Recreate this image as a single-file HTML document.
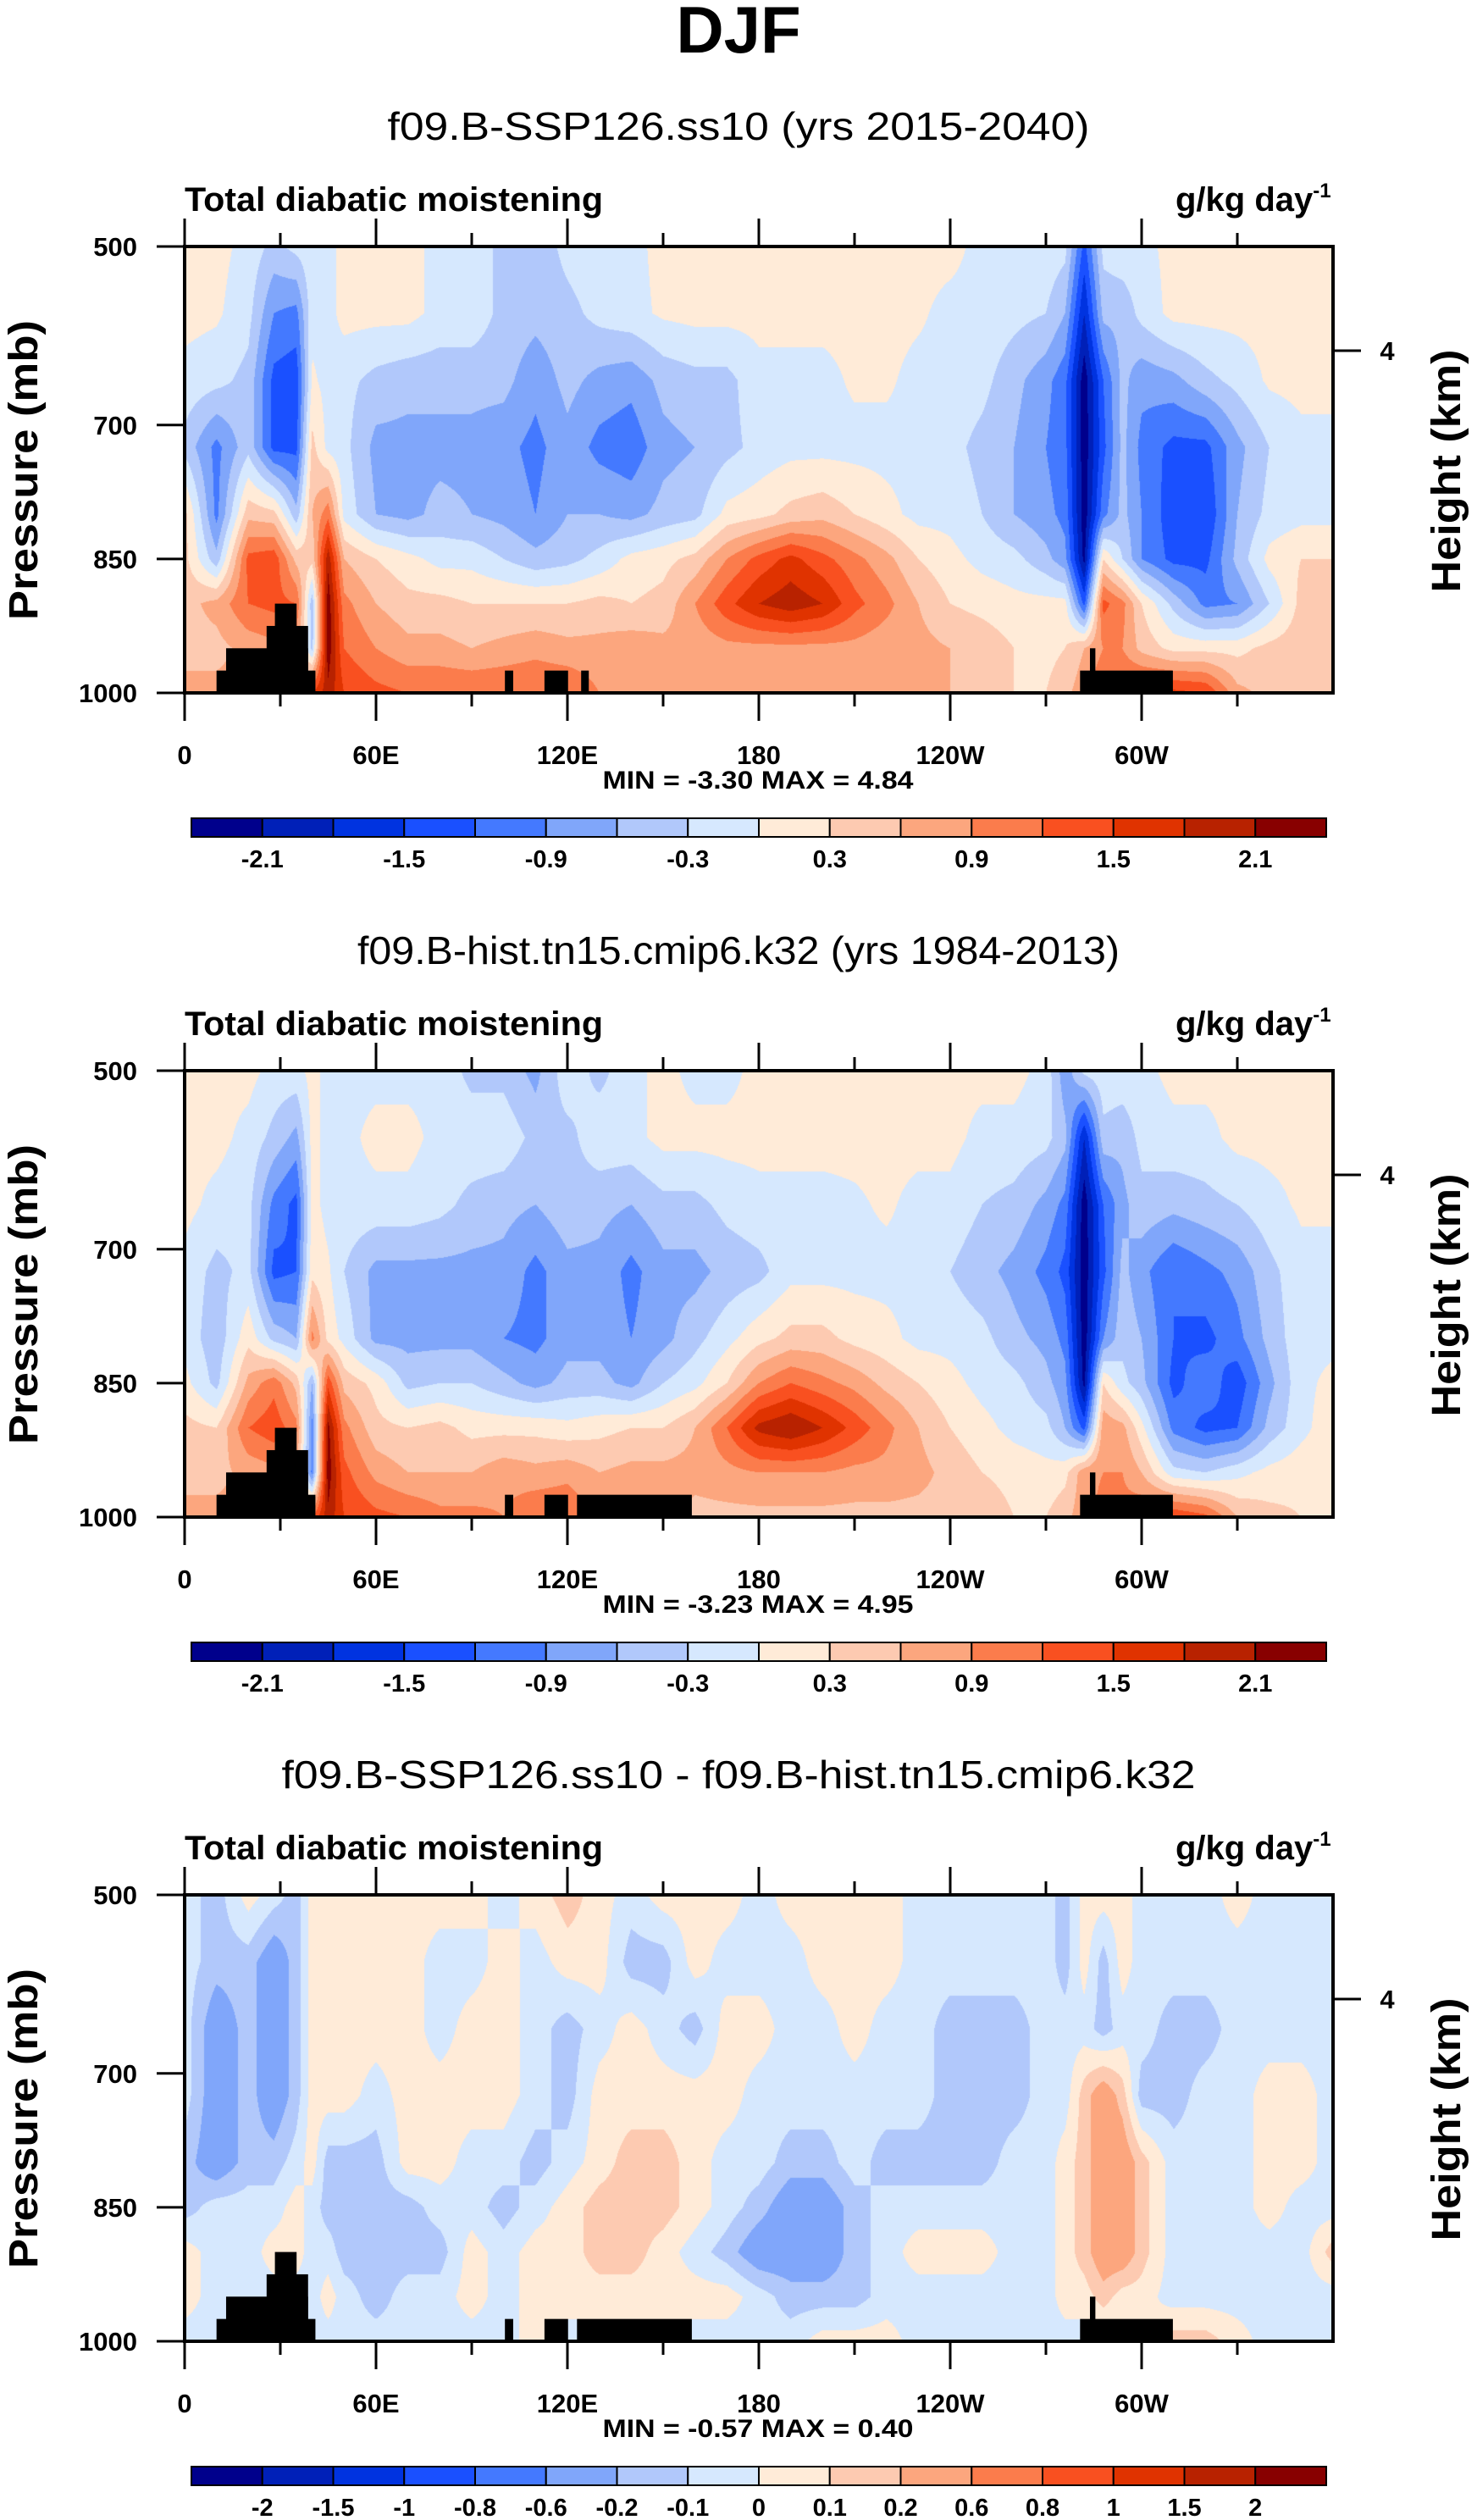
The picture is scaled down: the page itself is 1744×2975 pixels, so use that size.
<!DOCTYPE html>
<html><head><meta charset="utf-8"><title>DJF Total diabatic moistening</title>
<style>
html,body{margin:0;padding:0;background:#fff;}
#wrap{position:relative;width:1744px;height:2975px;overflow:hidden;background:#fff;}
canvas{position:absolute;left:218px;}
svg{position:absolute;left:0;top:0;}
text{font-family:"Liberation Sans",Arial,sans-serif;fill:#000;}
</style></head>
<body>
<div id="wrap">
<canvas id="c0" width="1356" height="527" style="top:291px"></canvas>
<canvas id="c1" width="1356" height="527" style="top:1264px"></canvas>
<canvas id="c2" width="1356" height="527" style="top:2237px"></canvas>
<svg id="svg" width="1744" height="2975" xmlns="http://www.w3.org/2000/svg">
<text x="872" y="62" font-size="78" font-weight="bold" text-anchor="middle">DJF</text>
</svg>
</div>
<script>
// ---- data ----
const lons = [0,10,20,28,35,40,45,50,60,70,80,90,100,110,120,130,140,150,160,170,180,190,200,210,220,230,240,250,260,270,276,282,288,294,300,310,320,330,340,350,360];
const levels = [500,575,650,725,800,850,900,950,1000];
const boundsAbs = [-2.1,-1.8,-1.5,-1.2,-0.9,-0.6,-0.3,0,0.3,0.6,0.9,1.2,1.5,1.8,2.1];
const boundsDiff = [-2,-1.5,-1,-0.8,-0.6,-0.2,-0.1,0,0.1,0.2,0.6,0.8,1,1.5,2];
const labelsAbs = ["-2.1","-1.5","-0.9","-0.3","0.3","0.9","1.5","2.1"];
const labelsDiff = ["-2","-1.5","-1","-0.8","-0.6","-0.2","-0.1","0","0.1","0.2","0.6","0.8","1","1.5","2"];
const palette = ['#00008c','#0020b8','#0033e0','#1a50ff','#4479ff','#80a6fa','#b1c8fb','#d6e8fe','#ffebd8','#fdcab1','#fca67e','#fb7c4c','#f95020','#e03300','#b82200','#880000'];
const lonTicks = [0,60,120,180,240,300];
const lonTickLabels = ["0","60E","120E","180","120W","60W"];
const pTicks = [500,700,850,1000];

const fieldSsp = [
[0.1,0.1,-0.1,-0.4,-0.2,-0.1,-0.1,0.1,0.1,0.1,-0.1,-0.1,-0.4,-0.5,-0.2,-0.1,-0.1,0.1,0.1,0.1,0.1,0.1,0.1,0.1,0.1,0.1,0.1,-0.1,-0.1,-0.1,-0.2,-1.3,-0.2,-0.1,-0.1,0.1,0.1,0.1,0.1,0.1,0.1],
[0.1,0.05,-0.2,-0.9,-1.0,-0.1,-0.1,0.1,0.1,0.1,-0.1,-0.1,-0.4,-0.5,-0.4,-0.2,-0.1,0.05,0.1,0.1,0.1,0.1,0.1,0.1,0.1,0.05,-0.1,-0.1,-0.2,-0.3,-0.6,-1.8,-0.5,-0.5,-0.2,0.1,0.1,0.1,0.1,0.1,0.1],
[-0.1,-0.2,-0.4,-1.3,-1.4,0.05,-0.1,-0.2,-0.4,-0.5,-0.5,-0.5,-0.5,-0.8,-0.5,-0.7,-0.8,-0.5,-0.4,-0.4,-0.1,-0.1,-0.1,0.05,0.05,-0.1,-0.1,-0.2,-0.5,-0.8,-1.1,-2.3,-1.2,-0.5,-0.8,-0.7,-0.4,-0.2,0.05,0.1,0.1],
[-0.4,-1.0,-0.4,-1.3,-1.3,0.4,-0.1,-0.2,-0.7,-0.7,-0.7,-0.7,-0.8,-1.0,-0.7,-1.0,-1.1,-0.7,-0.6,-0.4,-0.2,-0.1,-0.1,-0.1,-0.1,-0.1,-0.2,-0.4,-0.6,-0.9,-1.1,-2.3,-1.3,-0.5,-1.0,-1.3,-1.3,-0.7,-0.3,-0.1,-0.1],
[0.4,-1.0,0.5,0.4,-0.5,0.6,1.1,-0.1,-0.6,-0.7,-0.5,-0.6,-0.7,-0.9,-0.6,-0.6,-0.7,-0.5,-0.4,0.1,0.2,0.4,0.5,0.3,0.1,-0.1,-0.1,-0.3,-0.6,-0.8,-1.0,-2.3,-1.0,-0.5,-0.9,-1.4,-1.5,-0.6,-0.2,-0.1,-0.1],
[0.4,-0.5,1.3,1.4,0.5,0.4,2.0,0.6,0.3,0.1,-0.1,-0.1,-0.3,-0.5,-0.4,-0.2,0.1,0.2,0.4,0.9,1.3,1.6,1.3,1.0,0.7,0.3,0.1,-0.1,-0.2,-0.5,-0.8,-2.2,0.3,-0.3,-0.9,-1.3,-1.3,-0.5,0.1,0.3,0.3],
[0.5,0.7,1.2,1.3,1.2,-0.5,2.3,1.0,0.6,0.4,0.4,0.3,0.3,0.3,0.3,0.4,0.3,0.4,0.9,1.4,1.8,2.0,1.8,1.3,1.0,0.6,0.3,0.2,0.1,0.1,0.1,-1.3,1.3,1.0,0.3,-0.4,-1.0,-0.9,-0.3,0.4,0.5],
[0.5,0.5,0.7,0.8,0.7,-0.4,2.3,1.2,0.9,0.7,0.7,0.6,0.7,0.8,0.7,0.7,0.8,0.7,0.7,0.8,0.8,0.8,0.8,0.8,0.7,0.7,0.6,0.5,0.3,0.2,0.3,0.6,0.9,0.9,0.5,0.2,0.2,0.2,0.4,0.5,0.5],
[0.7,0.7,0.7,0.7,0.7,1.5,2.0,1.5,1.3,1.2,1.2,1.2,1.2,1.2,1.2,0.9,0.9,0.9,0.6,0.6,0.6,0.6,0.6,0.6,0.6,0.6,0.6,0.4,0.3,0.3,0.5,0.8,1.2,1.3,1.5,1.6,1.5,0.7,0.5,0.4,0.4]
];
const fieldHist = [
[0.1,0.1,0.1,-0.1,-0.1,0.1,-0.1,-0.1,-0.1,-0.1,-0.1,-0.4,-0.4,-0.7,-0.1,-0.4,-0.1,0.1,-0.1,-0.1,0.1,0.1,0.1,0.1,0.1,0.1,0.1,0.1,0.1,-0.1,-0.8,-0.2,-0.1,-0.1,-0.1,0.1,0.1,0.1,0.1,0.1,0.1],
[0.1,0.1,-0.1,-0.4,-0.7,0.1,-0.1,-0.1,0.1,0.1,-0.1,-0.1,-0.1,-0.4,-0.4,-0.1,-0.1,0.1,0.1,0.1,0.1,0.1,0.1,0.1,0.1,0.1,0.1,-0.1,-0.1,-0.2,-0.5,-1.8,-0.4,-0.5,-0.2,-0.1,-0.1,0.1,0.1,0.1,0.1],
[0.1,-0.1,-0.2,-1.0,-1.3,0.1,-0.1,-0.1,-0.1,-0.1,-0.2,-0.4,-0.5,-0.6,-0.4,-0.5,-0.6,-0.4,-0.4,-0.2,-0.1,-0.1,-0.1,-0.05,0.05,-0.1,-0.1,-0.3,-0.4,-0.7,-1.0,-2.3,-1.2,-0.7,-0.4,-0.5,-0.4,-0.3,-0.1,0.05,0.05],
[-0.1,-0.4,-0.2,-1.3,-1.2,0.2,0.05,-0.3,-0.7,-0.7,-0.7,-0.7,-0.7,-1.0,-0.7,-0.7,-1.0,-0.7,-0.7,-0.5,-0.4,-0.1,-0.1,-0.1,-0.1,-0.1,-0.3,-0.5,-0.7,-1.0,-1.3,-2.3,-1.3,-0.5,-0.8,-1.2,-1.0,-0.8,-0.4,-0.1,-0.1],
[-0.1,-0.5,0.2,-0.4,-0.6,1.0,0.2,-0.1,-0.7,-0.7,-0.7,-0.7,-0.9,-1.0,-0.7,-0.7,-0.9,-0.7,-0.4,-0.1,0.2,0.4,0.4,0.2,0.1,-0.1,-0.1,-0.2,-0.5,-0.7,-1.0,-2.3,-0.9,-0.4,-0.6,-1.2,-1.3,-1.0,-0.5,-0.1,-0.1],
[0.1,-0.4,0.7,1.1,0.5,-0.6,1.4,0.5,0.2,-0.4,-0.3,-0.3,-0.5,-0.7,-0.5,-0.5,-0.7,-0.3,-0.1,0.3,0.9,1.2,1.0,0.8,0.5,0.3,0.1,-0.1,-0.2,-0.5,-0.8,-2.2,0.3,-0.2,-0.5,-1.3,-1.0,-1.4,-0.7,-0.1,0.1],
[0.4,0.3,1.2,1.4,1.0,-1.0,2.2,1.0,0.4,0.3,0.4,0.2,0.2,0.2,0.1,0.2,0.3,0.3,0.6,1.2,1.9,2.1,1.8,1.4,1.0,0.6,0.3,0.1,-0.1,-0.2,-0.6,-1.3,0.8,0.7,0.1,-1.0,-1.3,-1.2,-0.5,-0.1,0.2],
[0.5,0.5,0.7,0.8,0.6,-1.0,2.3,1.3,0.8,0.6,0.6,0.6,0.8,0.7,0.8,0.6,0.7,0.7,0.7,0.8,0.9,0.9,0.9,0.8,0.8,0.7,0.5,0.3,0.2,0.1,0.2,0.8,0.9,0.9,0.6,-0.2,-0.3,-0.1,0.1,0.2,0.2],
[0.7,0.7,0.7,0.7,0.7,1.2,2.0,1.5,1.3,1.2,1.0,1.0,0.9,1.2,1.2,0.8,0.8,0.8,0.5,0.5,0.5,0.5,0.5,0.5,0.5,0.5,0.5,0.5,0.3,0.3,0.5,0.8,1.0,1.0,1.2,1.5,1.3,0.6,0.4,0.3,0.3]
];
const fieldDiff = [
[-0.05,-0.15,0.05,-0.05,-0.15,0.05,0.05,0.05,0.05,0.05,0.05,0.05,-0.05,0.05,0.15,0.05,-0.05,0.05,0.05,0.05,-0.05,0.05,0.05,0.05,0.05,-0.05,-0.05,-0.05,-0.05,-0.05,-0.15,0.05,0.05,0.05,-0.05,-0.05,-0.05,0.05,-0.05,-0.05,-0.05],
[-0.05,-0.15,-0.15,-0.3,-0.15,0.05,0.05,0.05,0.05,0.05,-0.05,-0.05,0.05,-0.05,0.05,0.05,-0.15,-0.15,0.05,-0.05,-0.05,-0.05,0.05,0.05,0.05,-0.05,-0.05,-0.05,-0.05,-0.05,-0.15,0.05,-0.15,0.05,-0.05,-0.05,-0.05,-0.05,-0.05,-0.05,-0.05],
[-0.05,-0.3,-0.15,-0.3,-0.15,0.05,0.05,0.05,0.05,0.05,-0.05,0.05,0.05,-0.05,-0.15,-0.05,0.05,-0.05,-0.15,0.05,0.05,-0.05,-0.05,0.05,-0.05,-0.05,-0.15,-0.15,-0.15,-0.05,-0.05,-0.05,-0.15,-0.05,-0.05,-0.15,-0.15,-0.05,-0.05,-0.05,-0.05],
[-0.05,-0.3,-0.15,-0.3,-0.15,0.05,0.05,0.05,-0.05,0.05,0.05,0.05,0.05,-0.05,-0.15,0.05,0.05,0.05,0.05,0.05,-0.05,-0.05,-0.05,-0.05,-0.05,-0.05,-0.15,-0.15,-0.15,-0.05,-0.05,0.15,0.3,0.15,-0.15,-0.15,-0.05,-0.05,0.05,0.05,-0.05],
[-0.15,-0.3,-0.15,-0.15,-0.05,0.05,-0.15,-0.15,-0.15,0.05,0.05,-0.05,-0.05,-0.15,-0.05,0.05,0.15,0.15,0.05,-0.05,-0.05,-0.15,-0.15,-0.05,-0.15,-0.15,-0.15,-0.15,-0.05,-0.05,0.05,0.15,0.3,0.3,0.15,-0.05,-0.05,-0.05,0.05,0.05,-0.05],
[-0.15,-0.05,-0.05,-0.05,0.05,-0.05,-0.15,-0.15,-0.15,-0.15,-0.05,-0.05,-0.15,-0.05,0.05,0.15,0.15,0.15,0.05,-0.05,-0.15,-0.3,-0.3,-0.15,-0.05,-0.05,-0.05,-0.05,-0.05,-0.05,0.05,0.15,0.3,0.3,0.15,-0.05,-0.05,-0.05,0.05,-0.05,-0.05],
[0.05,-0.05,-0.05,0.05,0.05,-0.05,-0.05,-0.15,-0.15,-0.15,-0.15,0.05,-0.05,0.05,0.05,0.15,0.15,0.05,-0.05,-0.15,-0.3,-0.3,-0.3,-0.15,-0.05,0.05,0.05,0.05,-0.05,-0.05,0.05,0.15,0.3,0.3,0.15,-0.05,-0.05,-0.05,-0.05,-0.05,0.15],
[0.05,-0.05,-0.05,-0.05,-0.05,-0.05,0.05,-0.05,-0.15,-0.05,-0.05,0.05,-0.05,0.05,0.05,0.05,0.05,0.05,0.05,0.05,-0.05,-0.15,-0.15,-0.15,-0.05,-0.05,-0.05,-0.05,-0.05,-0.05,0.05,0.05,0.15,0.05,0.05,-0.05,-0.05,-0.05,-0.05,-0.05,-0.05],
[-0.05,-0.05,-0.05,-0.05,-0.05,-0.05,-0.05,-0.05,-0.05,-0.05,-0.05,-0.05,-0.05,0.05,-0.05,-0.05,-0.05,-0.05,-0.05,-0.05,-0.05,-0.05,0.05,0.05,0.05,-0.05,-0.05,-0.05,-0.05,-0.05,-0.05,-0.05,-0.05,-0.05,-0.05,0.15,0.15,0.05,-0.05,-0.05,-0.05]
];
// topography blocks: west lon, east lon, top pressure
const topoWestSsp = [10,13,25.7,28.3,100.4,112.8,124.3,280.7,283.8];
const topoEastSsp = [41,38.7,38.7,35.1,103,120.2,126.7,309.8,285.5];
const topoTopSsp  = [975,950,925,900,975,975,975,975,950];
const topoWestHist = [10,13,25.7,28.3,100.4,112.8,123,280.7,283.8];
const topoEastHist = [41,38.7,38.7,35.1,103,120.2,159,309.8,285.5];
const topoTopHist  = [975,950,925,900,975,975,975,975,950];
const titles = ["f09.B-SSP126.ss10 (yrs 2015-2040)","f09.B-hist.tn15.cmip6.k32 (yrs 1984-2013)","f09.B-SSP126.ss10 - f09.B-hist.tn15.cmip6.k32"];
const minMax = ["MIN =  -3.30  MAX =   4.84","MIN =  -3.23  MAX =   4.95","MIN =  -0.57  MAX =   0.40"];

// ---- layout ----
const PX0 = 218, PX1 = 1574, PH = 527;
const panelTop = [291, 1264, 2237];
const titleW = [829, 900, 1079];
const NS = "http://www.w3.org/2000/svg";
const svg = document.getElementById('svg');
function xOf(lon){ return PX0 + lon/360*(PX1-PX0); }
function yOf(p, top){ return top + (p-500)/500*PH; }
function mk(tag, attrs, parent){ const e=document.createElementNS(NS,tag); for(const k in attrs) e.setAttribute(k,attrs[k]); (parent||svg).appendChild(e); return e; }

function sample(field, lon, p){
  let i=0; while(i<lons.length-2 && lon>lons[i+1]) i++;
  let j=0; while(j<levels.length-2 && p>levels[j+1]) j++;
  const tx=(lon-lons[i])/(lons[i+1]-lons[i]), ty=(p-levels[j])/(levels[j+1]-levels[j]);
  const r0=field[j], r1=field[j+1];
  const g=(r,k)=> (r[k]!==undefined? r[k] : r[r.length-1]);
  const a=g(r0,i)*(1-tx)+g(r0,i+1)*tx, b=g(r1,i)*(1-tx)+g(r1,i+1)*tx;
  return a*(1-ty)+b*ty;
}
function hexRgb(h){ return [parseInt(h.substr(1,2),16),parseInt(h.substr(3,2),16),parseInt(h.substr(5,2),16)]; }
const palRgb = palette.map(hexRgb);

function drawField(canvasId, field, bounds){
  const cv=document.getElementById(canvasId), ctx=cv.getContext('2d');
  const W=cv.width, H=cv.height, img=ctx.createImageData(W,H), d=img.data;
  for(let y=0;y<H;y++){
    const p=500+(y+0.5)/H*500;
    for(let x=0;x<W;x++){
      const lon=(x+0.5)/W*360;
      const v=sample(field,lon,p);
      let k=0; while(k<bounds.length && v>=bounds[k]) k++;
      const c=palRgb[k], o=(y*W+x)*4;
      d[o]=c[0]; d[o+1]=c[1]; d[o+2]=c[2]; d[o+3]=255;
    }
  }
  ctx.putImageData(img,0,0);
}

const fields=[fieldSsp,fieldHist,fieldDiff];
const topoW=[topoWestSsp,topoWestHist,topoWestHist];
const topoE=[topoEastSsp,topoEastHist,topoEastHist];
const topoT=[topoTopSsp,topoTopHist,topoTopHist];

for(let k=0;k<3;k++){
  const top=panelTop[k], bottom=top+PH;
  const bounds = k<2? boundsAbs : boundsDiff;
  drawField('c'+k, fields[k], bounds);
  const g=mk('g',{});
  
  
  // title
  const t=mk('text',{x:872,y:top-126,'font-size':46,'text-anchor':'middle',textLength:titleW[k],lengthAdjust:'spacingAndGlyphs'},g);
  t.textContent=titles[k];
  
  
  const l=mk('text',{x:218,y:top-42,'font-size':40,'font-weight':'bold',textLength:494,lengthAdjust:'spacingAndGlyphs'},g);
  l.textContent='Total diabatic moistening';
  
  
  const u=mk('text',{x:1388,y:top-42,'font-size':40,'font-weight':'bold'},g);
  u.innerHTML='g/kg day<tspan dy="-16" font-size="24">-1</tspan>';
  
  
  // topography
  for(let i=0;i<topoW[k].length;i++){
    const r=mk('rect',{x:xOf(topoW[k][i]),y:yOf(topoT[k][i],top),width:xOf(topoE[k][i])-xOf(topoW[k][i]),height:bottom-yOf(topoT[k][i],top),fill:'#000'},g);
    
    
  }
  // frame
  const f=mk('rect',{x:PX0,y:top,width:PX1-PX0,height:PH,fill:'none',stroke:'#000','stroke-width':4},g);
  
  
  // lon ticks (major + minor)
  for(let lon=0;lon<360;lon+=30){
    const major = lon%60===0, len = major?33:16, x=xOf(lon);
    const a=mk('line',{x1:x,y1:top,x2:x,y2:top-len,stroke:'#000','stroke-width':3},g);
    
    
    const b=mk('line',{x1:x,y1:bottom,x2:x,y2:bottom+len,stroke:'#000','stroke-width':3},g);
    
    
  }
  lonTicks.forEach((lon,i)=>{
    const tx=mk('text',{x:xOf(lon),y:bottom+84,'font-size':31,'font-weight':'bold','text-anchor':'middle'},g);
    tx.textContent=lonTickLabels[i];
    
    
  });
  pTicks.forEach(p=>{
    const y=yOf(p,top);
    const a=mk('line',{x1:185,y1:y,x2:PX0,y2:y,stroke:'#000','stroke-width':3},g);
    
    
    const tx=mk('text',{x:162,y:y+11,'font-size':31,'font-weight':'bold','text-anchor':'end'},g);
    tx.textContent=String(p);
    
    
  });
  const rt=mk('line',{x1:PX1,y1:top+123,x2:1607,y2:top+123,stroke:'#000','stroke-width':3},g);
  
  
  const rl=mk('text',{x:1638,y:top+134,'font-size':31,'font-weight':'bold','text-anchor':'middle'},g);
  rl.textContent='4';
  
  
  const ya=mk('text',{x:0,y:0,'font-size':48,'font-weight':'bold','text-anchor':'middle',textLength:354,lengthAdjust:'spacingAndGlyphs',transform:`translate(44,${top+264}) rotate(-90)`},g);
  ya.textContent='Pressure (mb)';
  
  
  const yb=mk('text',{x:0,y:0,'font-size':48,'font-weight':'bold','text-anchor':'middle',textLength:287,lengthAdjust:'spacingAndGlyphs',transform:`translate(1724,${top+265}) rotate(-90)`},g);
  yb.textContent='Height (km)';
  
  
  const mm=mk('text',{x:895,y:bottom+113,'font-size':30,'font-weight':'bold','text-anchor':'middle',textLength:367,lengthAdjust:'spacingAndGlyphs'},g);
  mm.textContent=minMax[k];
  
  
  // colorbar
  const cbTop=bottom+148, cbX0=226, cbW=(1566-226)/16;
  for(let i=0;i<16;i++){
    const r=mk('rect',{x:cbX0+i*cbW,y:cbTop,width:cbW,height:22,fill:palette[i],stroke:'#000','stroke-width':2},g);
    
    
  }
  const labs = k<2? labelsAbs : labelsDiff;
  labs.forEach((s,i)=>{
    const idx = k<2? (1+2*i) : (1+i);
    const tx=mk('text',{x:cbX0+idx*cbW,y:cbTop+58,'font-size':29,'font-weight':'bold','text-anchor':'middle'},g);
    tx.textContent=s;
    
    
  });
}
</script>
</body></html>
